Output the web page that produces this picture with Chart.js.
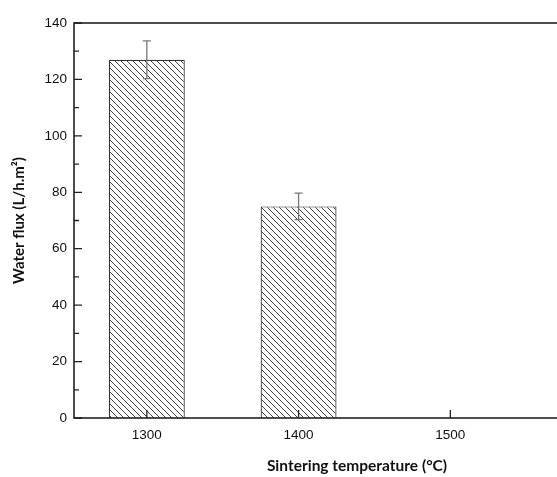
<!DOCTYPE html>
<html>
<head>
<meta charset="utf-8">
<script src="https://cdn.jsdelivr.net/npm/chart.js@4/dist/chart.umd.min.js"></script>
<style>
  html, body { margin: 0; padding: 0; background: #fff; overflow: hidden; }
  canvas { display: block; }
</style>
</head>
<body>
<canvas id="flux-chart" width="640" height="477"></canvas>
<script>
const temperatures = [1300, 1400, 1500];
const fluxValues = [127, 75, null];
const fluxErrors = [6.7, 4.7, null];
const yTicks = [0, 20, 40, 60, 80, 100, 120, 140];
const xTicks = [1300, 1400, 1500];

// diagonal hatch like the original figure
function hatchPattern() {
    const c = document.createElement('canvas');
    c.width = 6; c.height = 6;
    const g = c.getContext('2d');
    g.fillStyle = '#fff';
    g.fillRect(0, 0, 6, 6);
    g.strokeStyle = '#444';
    g.lineWidth = 1;
    g.beginPath();
    g.moveTo(-1, -1); g.lineTo(7, 7);
    g.moveTo(-1, 5); g.lineTo(1, 7);
    g.moveTo(5, -1); g.lineTo(7, 1);
    g.stroke();
    return g.createPattern(c, 'repeat');
}

const framePlugin = {
    id: 'frame',
    afterDatasetsDraw(chart) {
        const ctx = chart.ctx;
        const a = chart.chartArea;
        const xs = chart.scales.x, ys = chart.scales.y;
        ctx.save();

        // error bars
        ctx.strokeStyle = '#777';
        ctx.lineWidth = 1.3;
        temperatures.forEach((t, i) => {
            if (fluxValues[i] == null) return;
            const px = xs.getPixelForValue(t);
            const top = ys.getPixelForValue(fluxValues[i] + fluxErrors[i]);
            const bot = ys.getPixelForValue(fluxValues[i] - fluxErrors[i]);
            ctx.beginPath();
            ctx.moveTo(px, top); ctx.lineTo(px, bot);
            ctx.moveTo(px - 4, top); ctx.lineTo(px + 4, top);
            ctx.moveTo(px - 4, bot); ctx.lineTo(px + 4, bot);
            ctx.stroke();
        });

        // frame
        ctx.strokeStyle = '#222';
        ctx.lineWidth = 1.6;
        ctx.strokeRect(a.left, a.top, a.right - a.left, a.bottom - a.top);

        // inward ticks
        ctx.lineWidth = 1.3;
        ctx.beginPath();
        for (let v = 0; v <= 140; v += 10) {
            const py = ys.getPixelForValue(v);
            const len = v % 20 === 0 ? 8 : 5;
            ctx.moveTo(a.left, py); ctx.lineTo(a.left + len, py);
        }
        xTicks.forEach(v => {
            const px = xs.getPixelForValue(v);
            ctx.moveTo(px, a.bottom); ctx.lineTo(px, a.bottom - 8);
        });
        ctx.stroke();
        ctx.restore();
    }
};

new Chart(document.getElementById('flux-chart'), {
    type: 'bar',
    data: {
        datasets: [{
            label: 'Water flux',
            data: temperatures.map((t, i) => ({ x: t, y: fluxValues[i] })),
            backgroundColor: hatchPattern(),
            borderColor: '#333',
            borderWidth: 1.2,
            borderSkipped: 'start',
            barPercentage: 0.5,
            categoryPercentage: 1
        }]
    },
    options: {
        responsive: false,
        animation: false,
        layout: { padding: { top: 23, right: 0, left: 0, bottom: 0 } },
        plugins: { legend: { display: false }, tooltip: { enabled: false } },
        scales: {
            x: {
                type: 'linear',
                offset: false,
                min: 1252,
                max: 1625,
                afterBuildTicks: s => { s.ticks = xTicks.map(v => ({ value: v })); },
                afterFit: s => { s.height = 59; },
                grid: { display: false, drawTicks: false, offset: false },
                border: { display: false },
                ticks: {
                    color: '#111',
                    padding: 9,
                    callback: v => String(v),
                    font: { family: 'Liberation Sans', size: 13.5 }
                },
                title: {
                    display: true,
                    text: 'Sintering temperature (°C)',
                    color: '#111',
                    padding: { top: 0, bottom: 2 },
                    font: { family: 'Lato', size: 15.5, weight: 'bold' }
                }
            },
            y: {
                min: 0,
                max: 140,
                afterBuildTicks: s => { s.ticks = yTicks.map(v => ({ value: v })); },
                afterFit: s => { s.width = 74; },
                grid: { display: false, drawTicks: false },
                border: { display: false },
                ticks: {
                    color: '#111',
                    padding: 7,
                    font: { family: 'Liberation Sans', size: 13.5 }
                },
                title: {
                    display: true,
                    text: 'Water flux (L/h.m²)',
                    color: '#111',
                    padding: { top: 10, bottom: 0 },
                    font: { family: 'Lato', size: 15, weight: 'bold' }
                }
            }
        }
    },
    plugins: [framePlugin]
});
</script>
</body>
</html>
